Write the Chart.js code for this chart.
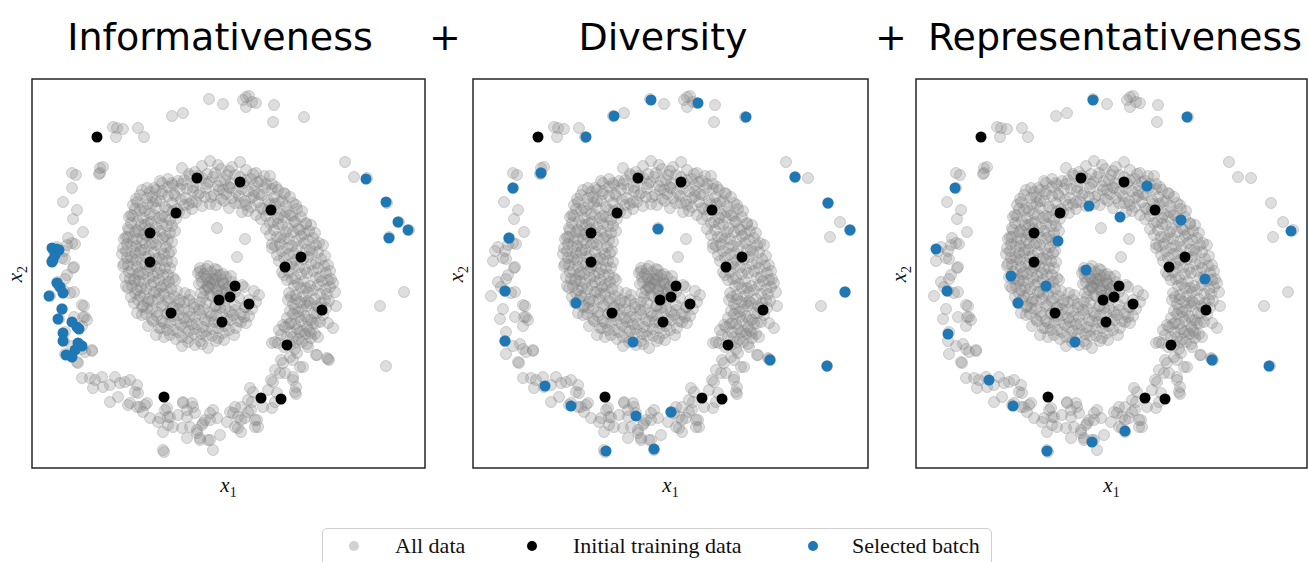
<!DOCTYPE html>
<html>
<head>
<meta charset="utf-8">
<script src="https://cdn.jsdelivr.net/npm/chart.js@4/dist/chart.umd.min.js"></script>
<style>
  html, body { margin: 0; padding: 0; background: #fff; }
  body { position: relative; width: 1308px; height: 562px; overflow: hidden; }
  .title { position: absolute; top: 18px; width: 420px; text-align: center; white-space: nowrap;
           font: 38px "DejaVu Sans", sans-serif; line-height: 38px; color: #000; }
  .panel { position: absolute; top: 77px; }
  .xlab { position: absolute; top: 473px; width: 60px; text-align: center;
          font: italic 21px "Liberation Serif", serif; color: #111; }
  .ylab { position: absolute; width: 60px; text-align: center; transform: rotate(-90deg);
          font: italic 21px "Liberation Serif", serif; color: #111; }
  sub { font-style: normal; font-size: 14px; }
  .legend { position: absolute; left: 322px; top: 528px; width: 668px; height: 40px;
            border: 1.5px solid #cfcfcf; border-radius: 5px; background: #fff; }
  .legend span { position: absolute; top: 4px; font: 22px "Liberation Serif", serif; color: #111; }
  .legend i { position: absolute; top: 12px; width: 10px; height: 10px; border-radius: 50%; }
</style>
</head>
<body>
<div id="root"></div>
<div class="legend">
  <i style="left:26px;background:#d2d2d2"></i><span style="left:72px">All data</span>
  <i style="left:204px;background:#000"></i><span style="left:250px">Initial training data</span>
  <i style="left:485px;background:#1f77b4"></i><span style="left:529px">Selected batch</span>
</div>
<script>
// Values: x1 left-to-right, x2 top-to-bottom (axis is reversed)
const titles = ['Informativeness', 'Diversity', 'Representativeness'];

const allData = [
  // outer arm, top
  [81,48],[85,49],[91,50],[84,58],[106,49],[112,58],[140,37],[151,34],[177,20],[191,25],[214,18],[211,21],
  [214,28],[224,24],[242,26],[241,43],[272,38],[217,17],[220,23],
  // outer arm, left
  [40,94],[44,96],[68,89],[71,88],[67,95],[68,94],[40,109],[31,123],[45,131],[41,140],[51,153],[36,159],
  [40,164],[35,166],[43,165],[30,179],[41,189],[25,168],[32,172],[22,172],[20,182],[33,180],[42,188],
  [25,203],[33,200],[28,208],[18,217],[42,213],[32,212],[30,230],[52,227],[27,240],[42,238],[53,238],
  [50,247],[33,253],[32,262],[40,267],[47,265],[50,270],[60,272],[33,275],[45,283],[35,196],[38,214],
  [50,226],[51,238],[55,241],[60,271],[53,273],[46,284],
  // outer arm, bottom
  [50,299],[58,299],[63,301],[70,298],[83,298],[78,306],[88,304],[98,301],[105,306],[61,309],[71,308],
  [106,314],[78,323],[86,318],[96,326],[105,328],[115,324],[111,333],[118,339],[128,339],[135,329],
  [136,338],[141,348],[151,324],[155,338],[161,328],[158,348],[165,351],[171,344],[178,341],[181,331],
  [168,359],[178,361],[132,373],[181,371],[93,303],[103,313],[98,324],[108,328],[113,326],[126,343],
  [133,331],[138,338],[136,346],[131,353],[146,336],[151,323],[160,324],[155,331],[150,349],[155,359],
  [165,354],[163,334],[173,341],[170,346],[168,361],[176,361],[178,334],[185,339],[188,356],[195,343],
  [198,333],[203,328],[206,338],[206,349],[213,339],[216,333],[220,323],[223,348],[225,341],[218,309],
  [231,328],[240,329],[245,314],[241,303],[248,294],[251,284],[261,281],[261,298],[263,313],[271,288],
  [265,274],[285,276],[295,279],[131,371],
  // arm rising on the right
  [256,221],[268,223],[278,224],[293,221],[304,227],[266,233],[276,241],[284,244],[296,244],[301,249],
  [259,244],[268,253],[279,254],[286,258],[264,263],[276,268],[284,276],[296,280],[249,281],[258,278],
  [268,288],[243,291],[253,294],[261,301],[264,308],[264,315],[239,301],[236,311],[243,323],[221,313],
  [216,321],[209,328],[201,334],[209,341],[223,341],[226,348],[209,353],[203,348],[219,331],
  // outer arm, right (sparse)
  [313,83],[322,98],[335,99],[355,124],[367,143],[377,151],[357,158],[372,213],[348,227],[354,287],
  [297,281],
  // sparse points inside the inner ring
  [185,149],[213,160],[205,178],[168,189],[240,169],
  // inner ring
  [170,87],[178,82],[186,86],[200,88],[208,83],
  [150,89],[163,93],[175,95],[189,90],[197,92],[214,91],[224,94],
  [136,100],[146,102],[158,97],[170,99],[181,98],[193,101],[203,96],[219,100],[229,102],[238,97],
  [122,109],[130,104],[141,106],[150,105],[161,108],[177,103],[186,107],[198,109],[211,104],[222,106],
  [234,105],[244,108],
  [110,111],[118,113],[130,112],[142,115],[155,110],[168,114],[182,116],[191,111],[204,113],[216,112],
  [227,115],[240,110],[252,114],
  [104,120],[115,119],[124,122],[136,117],[149,121],[160,123],[173,118],[189,120],[200,119],[213,122],
  [222,117],[236,121],[247,123],[258,118],
  [101,126],[111,129],[121,124],[133,128],[145,130],[157,125],[170,127],[184,126],[197,129],[208,124],
  [219,128],[231,130],[243,125],[254,127],[264,126],
  [99,136],[108,131],[118,135],[130,137],[141,132],[153,134],[210,133],[224,136],[236,131],[248,135],
  [260,137],[270,132],
  [97,138],[106,142],[116,144],[127,139],[138,141],[229,140],[241,143],[252,138],[263,142],[274,144],
  [96,149],[105,151],[113,146],[124,148],[135,147],[234,150],[246,145],[256,149],[268,151],[279,146],
  [94,158],[103,153],[112,155],[122,154],[133,157],[143,152],[238,156],[249,158],[261,153],[272,155],
  [283,154],
  [92,160],[101,162],[110,161],[120,164],[131,159],[140,163],[240,165],[252,160],[264,162],[276,161],
  [287,164],
  [91,169],[100,168],[109,171],[118,166],[129,170],[139,172],[243,167],[255,169],[266,168],[278,171],
  [291,166],
  [90,175],[99,178],[108,173],[117,177],[127,179],[137,174],[245,176],[257,175],[268,178],[280,173],
  [293,177],
  [92,185],[101,180],[110,184],[119,186],[130,181],[140,183],[247,182],[259,185],[271,180],[284,184],
  [296,186],
  [91,187],[100,191],[108,193],[118,188],[128,190],[138,189],[168,192],[176,187],[185,191],[250,193],
  [261,188],[273,190],[286,189],[298,192],
  [93,198],[102,200],[111,195],[121,197],[131,196],[141,199],[166,194],[174,198],[182,200],[191,195],
  [199,197],[252,196],[263,199],[275,194],[288,198],[299,200],
  [94,207],[103,202],[112,204],[122,203],[132,206],[143,201],[167,205],[175,207],[183,202],[191,204],
  [200,203],[210,206],[255,201],[266,205],[278,207],[290,202],[301,204],
  [96,209],[105,211],[114,210],[124,213],[134,208],[145,212],[169,214],[177,209],[185,211],[194,210],
  [203,213],[212,208],[222,212],[257,214],[269,209],[281,211],[293,210],[303,213],
  [99,218],[108,217],[117,220],[127,215],[137,219],[148,221],[158,216],[171,218],[180,217],[189,220],
  [198,215],[207,219],[217,221],[227,216],[259,218],[271,217],[283,220],[295,215],
  [102,224],[111,227],[120,222],[131,226],[141,228],[152,223],[162,225],[174,224],[184,227],[193,222],
  [203,226],[213,228],[224,223],[261,225],[273,224],[285,227],[297,222],
  [105,234],[115,229],[125,233],[135,235],[146,230],[157,232],[167,231],[178,234],[188,229],[198,233],
  [209,235],[220,230],[258,232],[270,231],[282,234],[294,229],
  [110,236],[120,240],[130,242],[141,237],[152,239],[163,238],[173,241],[184,236],[195,240],[206,242],
  [217,237],[255,239],[267,238],[279,241],[291,236],
  [116,247],[127,249],[138,244],[149,246],[160,245],[171,248],[182,243],[193,247],[204,249],[214,244],
  [251,246],[263,245],[275,248],[288,243],
  [124,256],[135,251],[146,253],[157,252],[169,255],[180,250],[191,254],[202,256],[247,251],[259,253],
  [271,252],[283,255],
  [132,258],[144,260],[156,259],[168,262],[180,257],[192,261],[243,263],[255,258],[267,260],[279,259],
  [150,267],[163,266],[176,269],[240,264],[252,268],[263,270],[275,265],
  // inner ring, second layer
  [157,95],[166,97],[183,94],[195,96],[208,98],[221,95],[232,97],
  [128,102],[140,104],[152,101],[164,103],[175,105],[188,102],[199,104],[214,101],[226,103],[240,105],
  [115,109],[124,111],[136,108],[148,110],[161,112],[174,109],[187,111],[197,108],[210,110],[222,112],
  [233,109],[246,111],
  [108,116],[120,118],[130,115],[143,117],[154,119],[166,116],[179,118],[194,115],[207,117],[219,119],
  [230,116],[242,118],[253,115],
  [105,123],[116,125],[128,122],[140,124],[152,126],[164,123],[178,125],[192,122],[203,124],[214,126],
  [226,123],[238,125],[250,122],[261,124],
  [103,130],[113,132],[124,129],[136,131],[147,133],[160,130],[216,132],[229,129],[242,131],[254,133],
  [265,130],
  [101,137],[111,139],[122,136],[133,138],[144,140],[234,137],[246,139],[258,136],[269,138],
  [99,144],[109,146],[119,143],[130,145],[140,147],[238,144],[250,146],[262,143],[274,145],
  [97,151],[107,153],[117,150],[128,152],[138,154],[242,151],[254,153],[266,150],[277,152],
  [96,158],[105,160],[115,157],[125,159],[136,161],[245,158],[257,160],[269,157],[281,159],
  [95,165],[104,167],[113,164],[124,166],[134,168],[248,165],[260,167],[272,164],[284,166],
  [94,172],[103,174],[112,171],[122,173],[132,175],[250,172],[262,174],[274,171],[286,173],
  [95,179],[104,181],[114,178],[124,180],[135,182],[252,179],[264,181],[276,178],[289,180],
  [96,186],[105,188],[113,185],[123,187],[133,189],[255,186],[267,188],[279,185],[292,187],
  [97,193],[106,195],[116,192],[126,194],[136,196],[257,193],[269,195],[281,192],[294,194],
  [98,200],[107,202],[117,199],[127,201],[137,203],[260,200],[272,202],[284,199],[296,201],
  [100,207],[109,209],[119,206],[129,208],[139,210],[262,207],[274,209],[286,206],[298,208],
  [103,214],[112,216],[122,213],[132,215],[142,217],[153,214],[264,216],[276,213],[288,215],
  [106,221],[116,223],[126,220],[136,222],[147,224],[157,221],[168,223],[264,220],[276,222],[289,224],
  [110,228],[120,230],[130,227],[141,229],[152,231],[162,228],[172,230],[183,227],[193,229],[203,231],
  [214,228],[263,230],[275,227],[287,229],
  [114,235],[125,237],[136,234],[146,236],[157,238],[168,235],[179,237],[190,234],[201,236],[212,238],
  [261,235],[273,237],[285,234],
  [121,242],[132,244],[143,241],[154,243],[165,245],[176,242],[187,244],[198,241],[209,243],[257,245],
  [269,242],[281,244],
  [129,249],[141,251],[152,248],[163,250],[174,252],[186,249],[197,251],[253,248],[265,250],[277,252],
  [138,256],[150,258],[162,255],[174,257],[186,259],[249,256],[261,258],[273,255],
  [156,263],[170,265],[184,262],[246,264],[258,266],[270,263],
  // dense core
  [172,195],[180,200],[188,196],[176,208],[185,212],[192,205],[170,203],[183,190],[195,214],[178,216],
  [190,201],[174,190],[179,193],[187,207],[173,211],[194,198],[181,205],[186,217],[197,208],[169,198],
  [178,204],[190,212],[184,196],[176,200]
];

const initialData = [
  [65,58],[165,99],[208,103],[144,134],[239,131],[118,154],[118,183],[269,178],[253,188],[203,207],
  [198,218],[187,221],[217,225],[139,234],[190,243],[290,231],[255,266],[132,318],[229,319],[249,320]
];

const batchInformativeness = [
  [20,169],[25,170],[27,171],[23,176],[20,183],[21,181],[25,204],[28,208],[31,214],[17,217],[30,230],
  [26,240],[40,243],[45,248],[47,250],[31,254],[31,262],[46,264],[50,267],[43,271],[34,276],[40,278],
  [334,100],[354,123],[366,143],[376,151],[357,159]
];

const batchDiversity = [
  [178,21],[225,24],[141,37],[273,38],[113,58],[68,94],[40,109],[322,98],[355,124],[377,151],[185,150],
  [36,159],[32,212],[103,224],[372,213],[160,263],[32,262],[297,281],[354,287],[72,307],[98,327],
  [163,337],[198,333],[133,372],[181,370]
];

const batchRepresentativeness = [
  [177,21],[271,38],[39,109],[231,107],[173,127],[204,138],[265,141],[142,162],[20,170],[375,152],
  [170,191],[95,197],[289,200],[31,212],[130,207],[102,224],[32,255],[159,263],[296,281],[353,287],
  [73,301],[97,327],[209,352],[176,363],[131,372]
];

const panels = [
  { title: titles[0], batch: batchInformativeness, left: 32, width: 393, center: 220 },
  { title: titles[1], batch: batchDiversity, left: 473, width: 395, center: 663 },
  { title: titles[2], batch: batchRepresentativeness, left: 916, width: 391, center: 1115 },
];
const plusSigns = [445, 891];

const frame = {
  id: 'frame',
  afterDraw(chart) {
    const a = chart.chartArea;
    const c = chart.ctx;
    c.save();
    c.strokeStyle = '#262626';
    c.lineWidth = 1.5;
    c.strokeRect(a.left, a.top, a.right - a.left, a.bottom - a.top);
    c.restore();
  }
};

const toXY = arr => arr.map(([x, y]) => ({ x, y }));
const root = document.getElementById('root');

function addText(cls, html, style) {
  const el = document.createElement('div');
  el.className = cls;
  el.innerHTML = html;
  Object.assign(el.style, style);
  root.appendChild(el);
}

plusSigns.forEach(cx => addText('title', '+', { left: (cx - 210) + 'px' }));

panels.forEach(p => {
  addText('title', p.title, { left: (p.center - 210) + 'px' });
  addText('xlab', 'x<sub>1</sub>', { left: (p.left + p.width / 2 - 30) + 'px' });
  addText('ylab', 'x<sub>2</sub>', { left: (p.left - 45) + 'px', top: '260px' });

  const canvas = document.createElement('canvas');
  canvas.className = 'panel';
  canvas.width = p.width + 4;
  canvas.height = 393;
  canvas.style.left = (p.left - 2) + 'px';
  root.appendChild(canvas);

  new Chart(canvas, {
    type: 'scatter',
    data: {
      datasets: [
        { data: toXY(p.batch), order: 0, pointRadius: 5.5, borderWidth: 0,
          backgroundColor: '#1f77b4', pointHoverRadius: 5.5 },
        { data: toXY(initialData), order: 1, pointRadius: 5.5, borderWidth: 0,
          backgroundColor: '#000', pointHoverRadius: 5.5 },
        { data: toXY(allData), order: 2, pointRadius: 5.5, borderWidth: 1,
          backgroundColor: 'rgba(128,128,128,0.26)', borderColor: 'rgba(128,128,128,0.32)',
          pointHoverRadius: 5.5 },
      ],
    },
    options: {
      responsive: false,
      animation: false,
      events: [],
      layout: { padding: 2, autoPadding: false },
      plugins: { legend: { display: false }, tooltip: { enabled: false } },
      scales: {
        x: { type: 'linear', display: false, min: 0, max: p.width },
        y: { type: 'linear', display: false, min: 0, max: 389, reverse: true },
      },
    },
    plugins: [frame],
  });
});
</script>
</body>
</html>
